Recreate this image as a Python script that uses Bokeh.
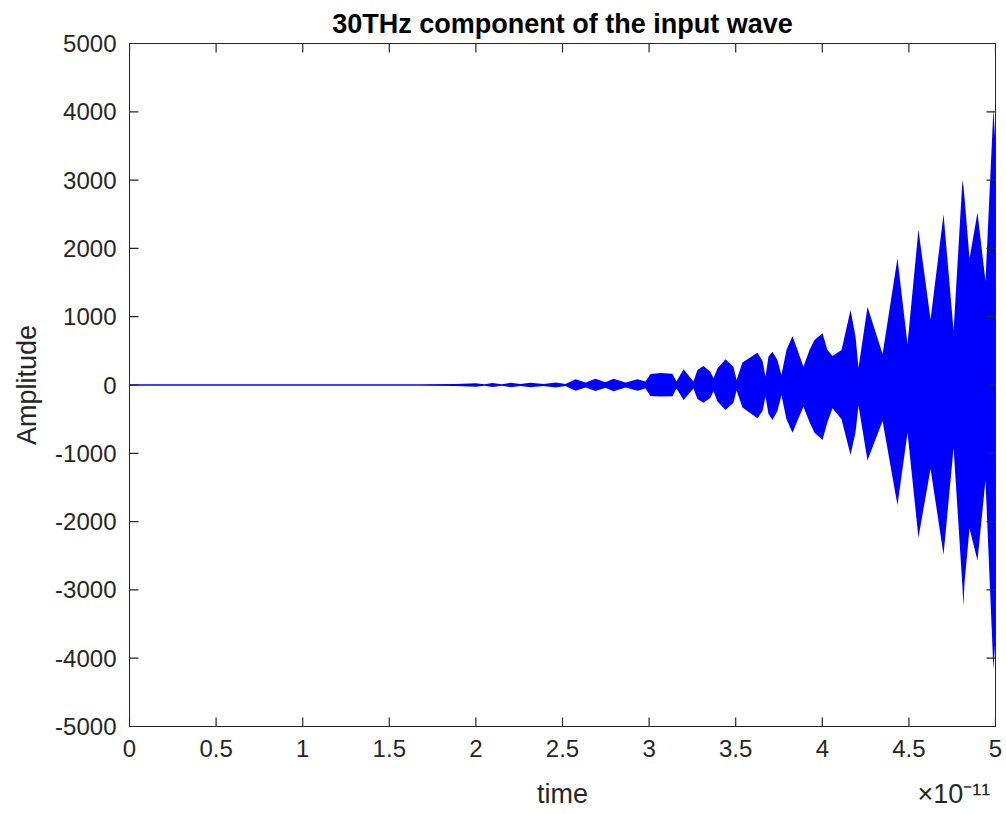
import math
from bokeh.plotting import figure
from bokeh.models import (ColumnDataSource, Range1d, FixedTicker, LinearAxis,
                          CustomJSTickFormatter)
from bokeh.embed import file_html
from bokeh.resources import INLINE

# ---- data (time in units of 1e-11 s): envelope of the 30 THz component ----
time_e11 = [0.000, 1.680, 1.882, 1.998, 2.050, 2.096, 2.148, 2.200, 2.258, 2.315,
            2.390, 2.460, 2.517, 2.575, 2.633, 2.691, 2.748, 2.794, 2.864, 2.933,
            2.979, 3.008, 3.066, 3.135, 3.158, 3.199, 3.256, 3.279, 3.314, 3.354,
            3.372, 3.395, 3.441, 3.487, 3.505, 3.539, 3.626, 3.655, 3.672, 3.689,
            3.712, 3.741, 3.764, 3.793, 3.828, 3.857, 3.891, 3.926, 3.955, 4.001,
            4.030, 4.059, 4.111, 4.163, 4.192, 4.209, 4.261, 4.348, 4.434, 4.492,
            4.555, 4.625, 4.700, 4.758, 4.809, 4.815, 4.821, 4.850, 4.896, 4.942,
            4.988, 5.000]
upper_env = [12, 12, 14, 25, 12, 28, 12, 32, 13, 34,
             13, 38, 15, 85, 38, 90, 40, 90, 35, 85,
             50, 160, 175, 165, 50, 230, 50, 220, 278, 195,
             98, 244, 376, 268, 73, 330, 473, 350, 122, 415,
             488, 366, 146, 512, 717, 512, 268, 512, 659, 756,
             512, 424, 512, 1098, 707, 250, 1146, 454, 1854, 600,
             2275, 958, 2499, 790, 3003, 2900, 2750, 1850, 2527, 1518,
             4039, 3500]
lower_env = [-12, -12, -14, -25, -12, -28, -12, -32, -13, -34,
             -13, -38, -15, -83, -36, -88, -40, -90, -35, -83,
             -50, -160, -170, -165, -50, -220, -50, -205, -259, -185,
             -90, -240, -366, -260, -80, -330, -488, -380, -170, -420,
             -512, -380, -150, -500, -698, -520, -317, -540, -700, -805,
             -540, -341, -500, -1024, -690, -300, -1104, -527, -1760, -700,
             -2235, -1227, -2487, -919, -2950, -3244, -2900, -2100, -2571, -1395,
             -4168, -3700]

x_ticks = [0, 0.5, 1, 1.5, 2, 2.5, 3, 3.5, 4, 4.5, 5]
y_ticks = [-5000, -4000, -3000, -2000, -1000, 0, 1000, 2000, 3000, 4000, 5000]
x_min, x_max = 0, 5
y_min, y_max = -5000, 5000

title_text = "30THz component of the input wave"
x_label = "time"
x_scale_note = "\u00d710\u207b\u00b9\u00b9"
y_label = "Amplitude"
# positions (in x data units) of the bottom captions row
caption_pos = [2.5, 4.76]

AX = "#262626"
FONT = "Liberation Sans"

src = ColumnDataSource(dict(t=time_e11, upper=upper_env, lower=lower_env))

p = figure(width=1006, height=814, x_range=Range1d(x_min, x_max), y_range=Range1d(y_min, y_max),
           output_backend="svg", toolbar_location=None,
           min_border_left=129, min_border_right=11, min_border_top=43, min_border_bottom=88)
p.background_fill_color = "white"
p.border_fill_color = "white"
p.outline_line_color = AX
p.outline_line_width = 1
p.xgrid.visible = False
p.ygrid.visible = False

p.title.text = title_text
p.title.align = "center"
p.title.text_font = FONT
p.title.text_font_size = "27px"
p.title.text_font_style = "bold"
p.title.text_color = "black"
p.title.standoff = 10

p.varea(x="t", y1="lower", y2="upper", source=src, fill_color="#0000FF", fill_alpha=1.0)

# inward tick marks on all four sides of the box
n_x = len(x_ticks)
n_y = len(y_ticks)
p.scatter(x=x_ticks + x_ticks, y=[y_min] * n_x + [y_max] * n_x, marker="dash",
          angle=math.pi / 2, size=18, line_color=AX, line_width=1.2)
p.scatter(x=[x_min] * n_y + [x_max] * n_y, y=y_ticks + y_ticks, marker="dash",
          size=18, line_color=AX, line_width=1.2)

plain = CustomJSTickFormatter(code="return tick.toString();")


def style_axis(ax):
    ax.axis_line_color = AX
    ax.axis_line_width = 1
    ax.major_tick_line_color = None
    ax.major_tick_in = 0
    ax.major_tick_out = 0
    ax.minor_tick_line_color = None
    ax.major_label_text_font = FONT
    ax.major_label_text_color = AX
    ax.major_label_text_font_size = "24px"
    ax.major_label_standoff = 13


xa = p.xaxis[0]
xa.ticker = FixedTicker(ticks=x_ticks)
xa.formatter = plain
style_axis(xa)

ya = p.yaxis[0]
ya.ticker = FixedTicker(ticks=y_ticks)
ya.formatter = plain
style_axis(ya)
ya.axis_label = y_label
ya.axis_label_text_font = FONT
ya.axis_label_text_font_size = "27px"
ya.axis_label_text_font_style = "normal"
ya.axis_label_text_color = AX
ya.axis_label_standoff = 10

# second row below the x axis: "time" caption and the x10^-11 multiplier
cap = LinearAxis(ticker=FixedTicker(ticks=caption_pos),
                 major_label_overrides={caption_pos[0]: x_label, caption_pos[1]: x_scale_note})
cap.axis_line_color = None
cap.major_tick_line_color = None
cap.minor_tick_line_color = None
cap.major_tick_in = 0
cap.major_tick_out = 0
cap.major_label_text_font = FONT
cap.major_label_text_font_size = "27px"
cap.major_label_text_color = AX
cap.major_label_standoff = 19
p.add_layout(cap, "below")

open("out.html", "w").write(file_html(p, INLINE))
